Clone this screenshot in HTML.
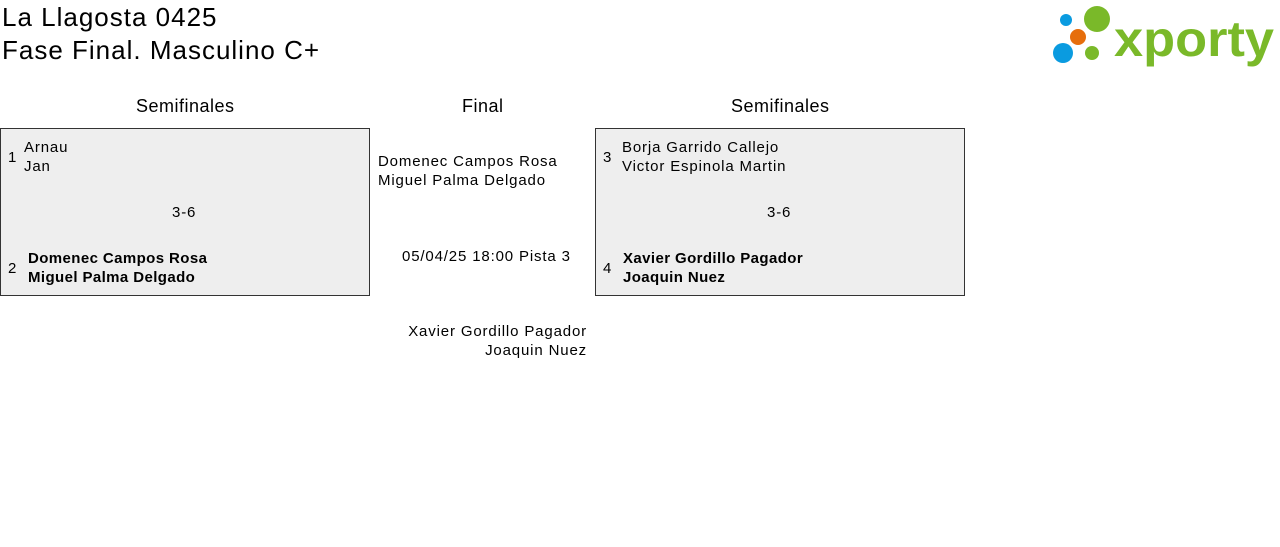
<!DOCTYPE html>
<html><head><style>
body{margin:0;width:1280px;height:547px;background:#fff;font-family:"Liberation Sans",sans-serif;color:#000;position:relative;overflow:hidden}
.a{position:absolute;white-space:nowrap}
.box{position:absolute;background:#eee;border:1px solid #333;box-sizing:border-box}
.t{font-size:26px;letter-spacing:1px}
.h{font-size:18px;letter-spacing:0.5px}
.n{font-size:15px;line-height:19px;letter-spacing:0.85px}
.b{font-weight:bold;letter-spacing:0.4px}
</style></head><body>
<div class="a t" style="left:2px;top:2px">La Llagosta 0425</div>
<div class="a t" style="left:2px;top:35px">Fase Final. Masculino C+</div>
<svg class="a" style="left:1040px;top:0" width="240" height="75">
<circle cx="26" cy="20" r="6" fill="#0a9be0"/>
<circle cx="57" cy="19" r="13" fill="#7ab929"/>
<circle cx="38" cy="37" r="8" fill="#e66e0c"/>
<circle cx="23" cy="53" r="10" fill="#0a9be0"/>
<circle cx="52" cy="53" r="7" fill="#7ab929"/>
<text x="74" y="56" font-family="Liberation Sans" font-weight="bold" font-size="50" fill="#7ab929" textLength="160" lengthAdjust="spacingAndGlyphs">xporty</text>
</svg>
<div class="a h" style="left:136px;top:96px">Semifinales</div>
<div class="a h" style="left:462px;top:96px">Final</div>
<div class="a h" style="left:731px;top:96px">Semifinales</div>
<div class="box" style="left:0;top:128px;width:370px;height:168px"></div>
<div class="box" style="left:595px;top:128px;width:370px;height:168px"></div>
<div class="a n" style="left:8px;top:148px">1</div>
<div class="a n" style="left:24px;top:138px">Arnau<br>Jan</div>
<div class="a n" style="left:172px;top:203px">3-6</div>
<div class="a n" style="left:8px;top:259px">2</div>
<div class="a n b" style="left:28px;top:249px">Domenec Campos Rosa<br>Miguel Palma Delgado</div>
<div class="a n" style="left:603px;top:148px">3</div>
<div class="a n" style="left:622px;top:138px">Borja Garrido Callejo<br>Victor Espinola Martin</div>
<div class="a n" style="left:767px;top:203px">3-6</div>
<div class="a n" style="left:603px;top:259px">4</div>
<div class="a n b" style="left:623px;top:249px">Xavier Gordillo Pagador<br>Joaquin Nuez</div>
<div class="a n" style="left:378px;top:152px">Domenec Campos Rosa<br>Miguel Palma Delgado</div>
<div class="a n" style="left:402px;top:247px">05/04/25 18:00 Pista 3</div>
<div class="a n" style="right:693px;top:322px;text-align:right">Xavier Gordillo Pagador<br>Joaquin Nuez</div>
</body></html>
